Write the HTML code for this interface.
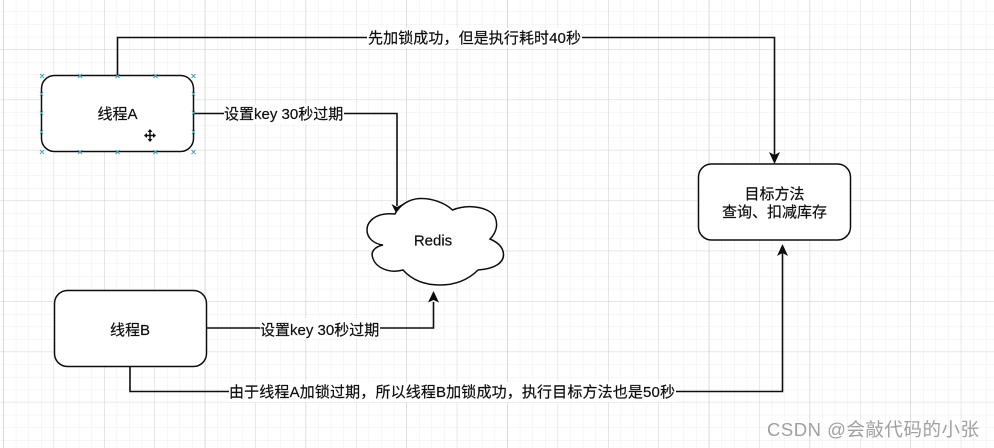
<!DOCTYPE html>
<html>
<head>
<meta charset="utf-8">
<style>
html,body{margin:0;padding:0;background:#fff;width:994px;height:448px;overflow:hidden}
svg{display:block;position:absolute;left:0;top:0}
text{font-family:"Liberation Sans","Noto Sans CJK SC",sans-serif;fill:#111;font-size:15px;stroke:#111;stroke-width:.2px}
</style>
</head>
<body>
<svg width="994" height="448" viewBox="0 0 994 448" xmlns="http://www.w3.org/2000/svg">
<defs>
<pattern id="minor" x="3.2" y="-1" width="12.6" height="12.6" patternUnits="userSpaceOnUse">
<path d="M0 0V12.6M0 0H12.6" stroke="#eeeeee" stroke-width="1" fill="none"/>
</pattern>
<pattern id="mid" x="3.2" y="-1.4" width="50.4" height="50.4" patternUnits="userSpaceOnUse">
<path d="M0 0V50.4M0 0H50.4" stroke="#dadada" stroke-width="1" fill="none"/>
</pattern>
<pattern id="major" x="3.2" y="-1.4" width="100.8" height="100.8" patternUnits="userSpaceOnUse">
<path d="M0 0V100.8" stroke="#cccccc" stroke-width="1" fill="none"/>
</pattern>
<filter id="soft" x="0" y="0" width="100%" height="100%"><feGaussianBlur stdDeviation="0.35"/></filter>
</defs>
<g filter="url(#soft)">
<rect width="994" height="448" fill="#fff"/>
<rect width="994" height="448" fill="url(#minor)"/>
<rect width="994" height="448" fill="url(#mid)"/>
<rect width="994" height="448" fill="url(#major)"/>

<g fill="none" stroke="#111" stroke-width="1.6">
<path d="M117.500 75V37.500H774.500V156"/>
<path d="M193 113.500H397V206"/>
<path d="M206 328H433.500V302"/>
<path d="M130 366V391.500H782.500V249"/>
</g>
<g fill="#111">
<path d="M774.500 164L769 152L774.500 155L780 152Z"/>
<path d="M397 215L391.500 204L397 207L402.500 204Z"/>
<path d="M433.500 291L428 302.500L433.500 300L439 302.500Z"/>
<path d="M782.500 244L777 256L782.500 253L788 256Z"/>
</g>

<g fill="#fff" stroke="#111" stroke-width="1.5">
<rect x="41.500" y="75.500" width="152" height="76" rx="13"/>
<rect x="54.500" y="290.500" width="152" height="76" rx="13"/>
<rect x="698.500" y="164" width="152" height="76" rx="13"/>
<path d="M395 214C375 212 367 222 367 230C367 238 374 244 383 245C374 247 371 252 372.500 257C375 267 388 274 403 270C412 280 425 285 440 285C458 285 470 278 478 270C494 269 504 263 503.500 254C503 247 497 242 490 239C497 232 498 224 495 217C490 208 470 203 452.500 210C445 203 432 198 420 198.500C408 199 399 206 395 214Z"/>
</g>

<g fill="#fff">
<rect x="367" y="28" width="215" height="20"/>
<rect x="224" y="104" width="120" height="20"/>
<rect x="260" y="318" width="120" height="20"/>
<rect x="229" y="382" width="447" height="20"/>
</g>

<g stroke="#3ba7b5" stroke-width="1" fill="none">
<path d="M40 74l4 4m0-4l-4 4M78 74l4 4m0-4l-4 4M115.500 74l4 4m0-4l-4 4M153.500 74l4 4m0-4l-4 4M191.500 74l4 4m0-4l-4 4"/>
<path d="M40 92l3 4m0-4l-3 4M40 111l3 4m0-4l-3 4M40 130l3 4m0-4l-3 4M192 92l3 4m0-4l-3 4M192 111l3 4m0-4l-3 4M192 130l3 4m0-4l-3 4"/>
<path d="M40 150l4 4m0-4l-4 4M78 150l4 4m0-4l-4 4M115.500 150l4 4m0-4l-4 4M153.500 150l4 4m0-4l-4 4M191.500 150l4 4m0-4l-4 4"/>
</g>

<g stroke="#111" stroke-width="1.500" fill="#111">
<path d="M150 130V141M144.500 135.500H155.500" fill="none"/>
<path d="M150 129l-2.500 3h5zM150 142l-2.500-3h5zM144 135.500l3-2.500v5zM156 135.500l-3-2.500v5z" stroke="none"/>
</g>

<text x="117.500" y="119" text-anchor="middle">线程A</text>
<text x="130" y="335" text-anchor="middle">线程B</text>
<text x="774.500" y="199" text-anchor="middle">目标方法</text>
<text x="774.500" y="217" text-anchor="middle">查询、扣减库存</text>
<text x="433" y="245.500" text-anchor="middle" style="font-size:15px">Redis</text>
<text x="224" y="119">设置key 30秒过期</text>
<text x="260" y="335">设置key 30秒过期</text>
<text x="368" y="43" textLength="213" lengthAdjust="spacing">先加锁成功，但是执行耗时40秒</text>
<text x="229" y="397" textLength="446" lengthAdjust="spacing">由于线程A加锁过期，所以线程B加锁成功，执行目标方法也是50秒</text>
<text x="767" y="436" style="font-size:18.500px;fill:#a0a0a0;stroke:none" textLength="212" lengthAdjust="spacing">CSDN @会敲代码的小张</text>
</g>
</svg>
</body>
</html>
